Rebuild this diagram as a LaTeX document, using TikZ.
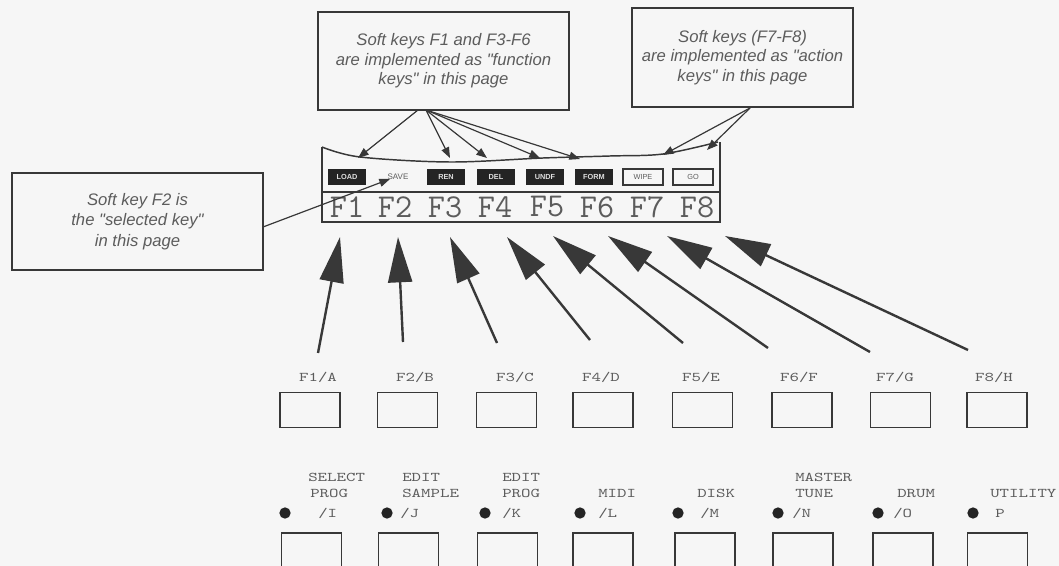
\documentclass[tikz,border=0pt]{standalone}
\usepackage{fontspec}
\newfontfamily\boxfont{Liberation Sans}
\usetikzlibrary{arrows.meta}
\definecolor{bg}{rgb}{0.965,0.965,0.965}
\definecolor{ink}{rgb}{0.22,0.22,0.22}
\definecolor{txt}{rgb}{0.36,0.36,0.36}
\definecolor{lcd}{rgb}{0.14,0.14,0.14}
\newcommand\keytxt[1]{\scalebox{1.35}[1]{#1}}
\begin{document}
\begin{tikzpicture}[x=0.75pt,y=-0.75pt,
  note/.style={draw=ink, line width=1.1pt, fill=bg, align=center, text=txt, inner sep=0pt,
    font=\boxfont\itshape\fontsize{12.5}{14.5}\selectfont},
  small/.style={-{Triangle[length=8pt,width=6pt]}, draw=ink, line width=0.9pt},
  big/.style={-{Triangle[length=34pt,width=18pt]}, draw=ink, line width=1.8pt},
  soft/.style={fill=lcd, text=gray!25, font=\boxfont\bfseries\fontsize{5.5}{6}\selectfont,
    minimum width=29pt, minimum height=12pt, inner sep=0pt},
  softo/.style={draw=ink, line width=0.8pt, text=txt, font=\boxfont\fontsize{5.5}{6}\selectfont,
    minimum width=30pt, minimum height=12pt, inner sep=0pt},
  fkey/.style={font=\ttfamily\fontsize{25}{25}\selectfont, text=txt, inner sep=0pt},
  klab/.style={font=\ttfamily\fontsize{10}{11}\selectfont, text=txt, inner sep=0pt},
  kbox/.style={draw=ink, line width=1.1pt, minimum width=45pt, minimum height=26.25pt, inner sep=0pt},
  led/.style={circle, fill=lcd, minimum size=8.5pt, inner sep=0pt},
  frame/.style={draw=ink, line width=1.1pt}]

\fill[bg] (0,0) rectangle (1059,566);
\useasboundingbox (0,0) rectangle (1059,566);
\clip (0,0) rectangle (1059,566);

% callout boxes
\node[note, minimum width=188pt, minimum height=73.5pt] (b1) at (443.5,61)
  {Soft keys F1 and F3-F6\\are implemented as "function\\keys" in this page};
\node[note, minimum width=165.75pt, minimum height=74.25pt] (b2) at (742.5,57.5)
  {Soft keys (F7-F8)\\are implemented as "action\\keys" in this page};
\node[note, minimum width=188pt, minimum height=72.75pt, font=\boxfont\itshape\fontsize{12.5}{15.5}\selectfont] (b3) at (137.5,221.5)
  {Soft key F2 is\\the "selected key"\\in this page};

% display
\draw[frame] (322,147) -- (322,222) -- (720,222) -- (720,142);
\draw[frame] plot[smooth, tension=0.55] coordinates {(322,147) (360,157) (450,162) (543,158) (610,156) (663,154) (718,142)};
\draw[frame] (322,192) -- (720,192);

\node[soft] (l1) at (347,177) {LOAD};
\node[inner sep=0pt, text=txt, font=\boxfont\fontsize{6}{6}\selectfont] (l2) at (398,177) {SAVE};
\node[soft] (l3) at (446,177) {REN};
\node[soft] (l4) at (496,177) {DEL};
\node[soft] (l5) at (545,177) {UNDF};
\node[soft] (l6) at (594,177) {FORM};
\node[softo] (l7) at (643,177) {WIPE};
\node[softo] (l8) at (693,177) {GO};

\foreach \i/\x in {1/347,2/395,3/445,4/495,5/547,6/597,7/647,8/697}
  \node[fkey] (f\i) at (\x,207) {F\i};

% small arrows from callouts
\coordinate (s1) at (418,110);
\coordinate (s2) at (426,110);
\coordinate (s3) at (750,108);
\coordinate (p1) at (358,158);
\coordinate (p3) at (450,158);
\coordinate (p4) at (487,158);
\coordinate (p5) at (540,158);
\coordinate (p6) at (580,159);
\coordinate (p7) at (663,155);
\coordinate (p8) at (707,150);
\coordinate (s0) at (263,227);
\coordinate (p2) at (390,179);
\draw[small] (s1) -- (p1);
\foreach \p in {p3,p4,p5,p6} \draw[small] (s2) -- (\p);
\draw[small] (s3) -- (p7);
\draw[small] (s3) -- (p8);
\draw[small] (s0) -- (p2);

% big arrows
\foreach \i/\tx/\ty/\hx/\hy in {1/318/353/340/237, 2/403/342/398/237, 3/497/343/450/237, 4/590/340/507/237,
  5/683/343/553/236, 6/768/348/608/236, 7/870/352/667/236, 8/968/350/725/236}{
  \coordinate (t\i) at (\tx,\ty);
  \coordinate (h\i) at (\hx,\hy);
  \draw[big] (t\i) -- (h\i);
}

% first row of keys
\foreach \i/\lx/\bx/\t in {1/318/310/{F1/A}, 2/415/407.5/{F2/B}, 3/515/506.5/{F3/C}, 4/601/603/{F4/D},
  5/701/702.5/{F5/E}, 6/799/802/{F6/F}, 7/895/900.5/{F7/G}, 8/994/997/{F8/H}}{
  \node[klab] (k\i) at (\lx,377) {\keytxt{\t}};
  \node[kbox] (kb\i) at (\bx,410) {};
}

% second row of keys
\foreach \i/\dx/\bx in {1/285/311.5, 2/387/408.5, 3/485/507.5, 4/580/603, 5/678/705, 6/778/803, 7/878/903, 8/973/997.5}{
  \node[led] (d\i) at (\dx,513) {};
  \node[kbox] (mb\i) at (\bx,550.5) {};
}
\node[klab, anchor=west] (m1a) at (308,477) {\keytxt{SELECT}};
\node[klab, anchor=west] (m1b) at (310,493) {\keytxt{PROG}};
\node[klab, anchor=west] (m1c) at (318,513) {\keytxt{/I}};
\node[klab, anchor=west] (m2a) at (402,477) {\keytxt{EDIT}};
\node[klab, anchor=west] (m2b) at (402,493) {\keytxt{SAMPLE}};
\node[klab, anchor=west] (m2c) at (400,513) {\keytxt{/J}};
\node[klab, anchor=west] (m3a) at (502,477) {\keytxt{EDIT}};
\node[klab, anchor=west] (m3b) at (502,493) {\keytxt{PROG}};
\node[klab, anchor=west] (m3c) at (502,513) {\keytxt{/K}};
\node[klab, anchor=west] (m4b) at (598,493) {\keytxt{MIDI}};
\node[klab, anchor=west] (m4c) at (598,513) {\keytxt{/L}};
\node[klab, anchor=west] (m5b) at (697,493) {\keytxt{DISK}};
\node[klab, anchor=west] (m5c) at (700,513) {\keytxt{/M}};
\node[klab, anchor=west] (m6a) at (795,477) {\keytxt{MASTER}};
\node[klab, anchor=west] (m6b) at (795,493) {\keytxt{TUNE}};
\node[klab, anchor=west] (m6c) at (792,513) {\keytxt{/N}};
\node[klab, anchor=west] (m7b) at (897,493) {\keytxt{DRUM}};
\node[klab, anchor=west] (m7c) at (893,513) {\keytxt{/O}};
\node[klab, anchor=west] (m8b) at (990,493) {\keytxt{UTILITY}};
\node[klab, anchor=west] (m8c) at (995,513) {\keytxt{P}};
\end{tikzpicture}
\end{document}
